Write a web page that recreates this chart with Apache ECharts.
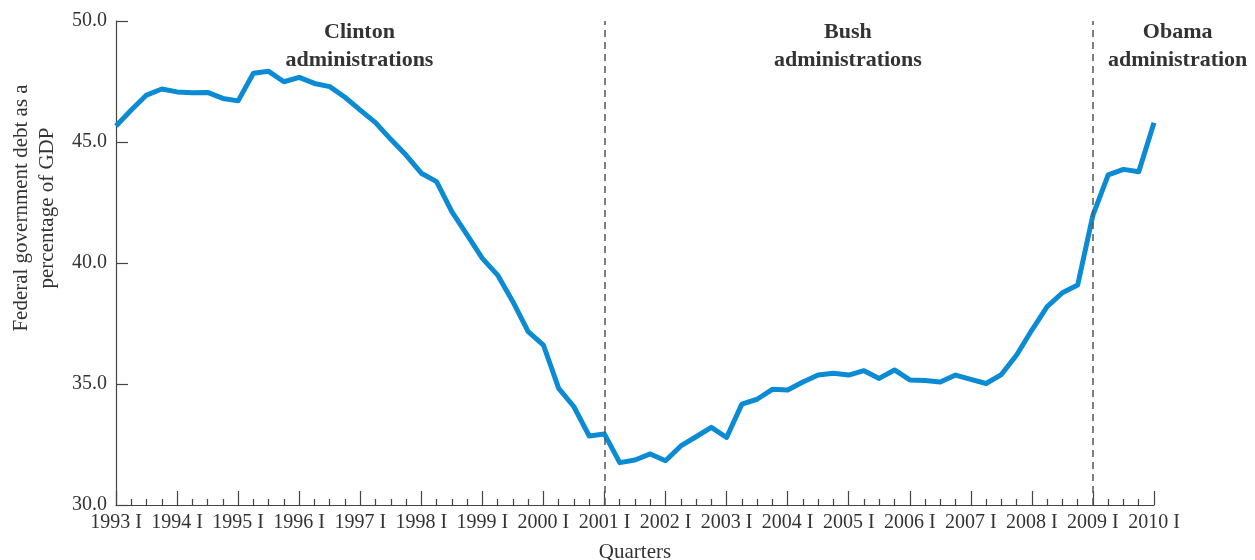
<!DOCTYPE html>
<html>
<head>
<meta charset="utf-8">
<script src="https://cdn.jsdelivr.net/npm/echarts@6/dist/echarts.min.js"></script>
<style>
  html, body { margin: 0; padding: 0; background: #fff; }
  #main { width: 1255px; height: 560px; }
</style>
</head>
<body>
<div id="main"></div>
<script>
// quarterly data, 1993 I .. 2010 I
var startYear = 1993;
var debtPct = [
  45.66, 46.32, 46.94, 47.19, 47.07, 47.04, 47.05, 46.80, 46.70, 47.84, 47.92, 47.49,
  47.67, 47.42, 47.29, 46.85, 46.32, 45.80, 45.11, 44.46, 43.71, 43.36, 42.12, 41.16,
  40.19, 39.50, 38.40, 37.16, 36.61, 34.82, 34.06, 32.85, 32.93, 31.75, 31.86, 32.11,
  31.83, 32.44, 32.82, 33.21, 32.79, 34.17, 34.37, 34.78, 34.75, 35.08, 35.37, 35.44,
  35.37, 35.55, 35.23, 35.58, 35.17, 35.14, 35.08, 35.37, 35.19, 35.02, 35.39, 36.20,
  37.23, 38.20, 38.77, 39.09, 41.98, 43.64, 43.87, 43.77, 45.80
];
// quarter index of the administration changes (2001 I, 2009 I)
var changeQuarters = [32, 64];
var adminLabels = [
  { text: 'Clinton\nadministrations', q: 15.95 },
  { text: 'Bush\nadministrations', q: 47.95 },
  { text: 'Obama\nadministration', q: 69.55 }
];
var yTitle = 'Federal government debt as a\npercentage of GDP';

var chart = echarts.init(document.getElementById('main'));
var serif = '"Liberation Serif", "DejaVu Serif", serif';
var ink = '#333';

var points = debtPct.map(function (v, i) { return [i, v]; });

var option = {
  backgroundColor: '#ffffff',
  animation: false,
  textStyle: { fontFamily: serif },
  grid: { left: 116, right: 101, top: 21, bottom: 55, containLabel: false, outerBoundsMode: 'none' },
  xAxis: {
    type: 'value',
    min: 0,
    max: 68,
    interval: 4,
    name: 'Quarters',
    nameLocation: 'middle',
    nameGap: 37,
    nameTextStyle: { fontFamily: serif, fontSize: 21, color: ink },
    axisLine: { lineStyle: { color: '#444', width: 1.2 } },
    axisTick: { inside: true, length: 14, lineStyle: { color: '#444', width: 1.2 } },
    minorTick: { show: true, splitNumber: 4, length: 6, lineStyle: { color: '#444', width: 1.2 } },
    splitLine: { show: false },
    axisLabel: {
      fontFamily: serif, fontSize: 20, color: ink, margin: 8,
      formatter: function (v) { return (startYear + v / 4) + ' I'; }
    }
  },
  yAxis: {
    type: 'value',
    min: 30,
    max: 50,
    interval: 5,
    axisLine: { show: true, lineStyle: { color: '#444', width: 1.2 } },
    axisTick: { show: true, inside: true, length: 12, lineStyle: { color: '#444', width: 1.2 } },
    splitLine: { show: false },
    axisLabel: {
      fontFamily: serif, fontSize: 20, color: ink, margin: 9,
      formatter: function (v) { return v.toFixed(1); }
    }
  },
  series: [{
    type: 'line',
    data: points,
    symbol: 'none',
    lineStyle: { color: '#0a8bd3', width: 5, join: 'round' },
    markLine: {
      silent: true,
      symbol: 'none',
      label: { show: false },
      lineStyle: { color: '#555', type: [7, 5], width: 1.5 },
      data: changeQuarters.map(function (q) { return { xAxis: q }; })
    }
  }]
};
chart.setOption(option);

// administration captions placed in data coordinates, plus the y title
var texts = adminLabels.map(function (a) {
  var p = chart.convertToPixel({ gridIndex: 0 }, [a.q, 50]);
  return {
    type: 'text',
    x: p[0],
    y: p[1] - 3,
    style: {
      text: a.text,
      fontFamily: serif,
      fontSize: 22,
      fontWeight: 'bold',
      fill: ink,
      align: 'center',
      verticalAlign: 'top',
      lineHeight: 28
    }
  };
});
texts.push({
  type: 'text',
  x: 34,
  y: 208,
  rotation: Math.PI / 2,
  style: {
    text: yTitle,
    fontFamily: serif,
    fontSize: 21,
    fill: ink,
    align: 'center',
    verticalAlign: 'middle',
    lineHeight: 26
  }
});
chart.setOption({ graphic: texts });
</script>
</body>
</html>
